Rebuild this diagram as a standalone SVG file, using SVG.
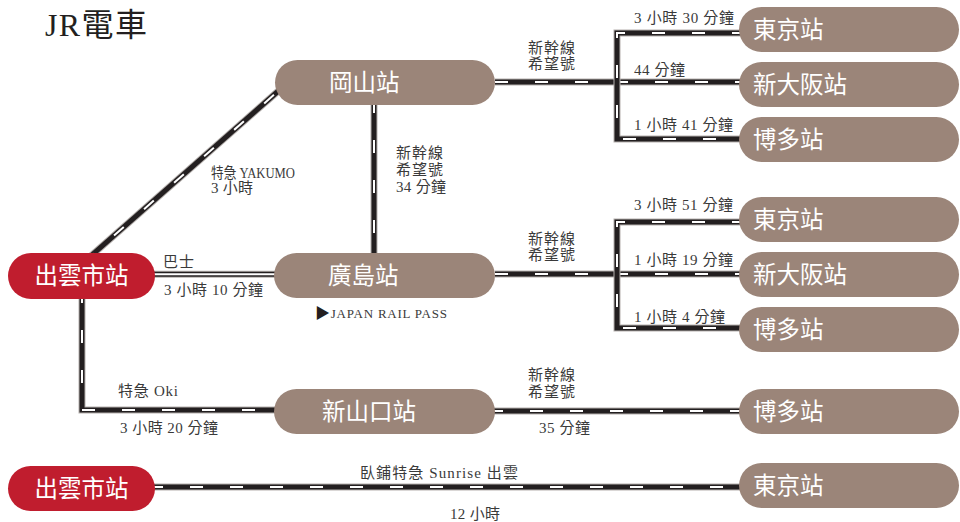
<svg xmlns="http://www.w3.org/2000/svg" xmlns:xlink="http://www.w3.org/1999/xlink" width="960" height="522" viewBox="0 0 960 522">
<style>
.edge{fill:none;stroke:#b5b0ad;stroke-width:7}
.core{fill:none;stroke:#231f20;stroke-width:5}
.dash{fill:none;stroke:#ffffff;stroke-width:2;stroke-dasharray:13 27}
.busE{fill:none;stroke:#b5b0ad;stroke-width:7}
.busC{fill:none;stroke:#231f20;stroke-width:5}
.busW{fill:none;stroke:#ffffff;stroke-width:2}
.st{fill:#9b8579}
.red{fill:#c01d2e}
.nt{font-family:"Noto Sans CJK TC","Noto Sans",sans-serif;font-size:23.5px;fill:#ffffff;font-weight:400}
.lb{font-family:"Liberation Serif","Noto Sans CJK TC",serif;font-size:15px;fill:#3a3a3a}
.title{font-family:"Liberation Serif","Noto Sans CJK TC",serif;font-size:32px;fill:#231f20}
</style>
<defs>
<path id="r1" d="M495,82 H745"/>
<path id="r2" d="M745,33 H617 V139 H745"/>
<path id="r3" d="M495,274 H745"/>
<path id="r4" d="M745,222 H617 V328 H745"/>
<path id="r5" d="M374,100 V258"/>
<path id="r6" d="M84,262 L284,86"/>
<path id="r7" d="M82,290 V410 H280"/>
<path id="r8" d="M490,411 H745"/>
<path id="r9" d="M150,487 H745"/>
<path id="b1" d="M150,274.3 H280"/>
</defs>
<text class="title" x="45" y="36" textLength="102">JR電車</text>
<g id="connectors">
<use xlink:href="#r1" class="edge"/><use xlink:href="#r1" class="core"/><use xlink:href="#r1" class="dash"/>
<use xlink:href="#r2" class="edge"/><use xlink:href="#r2" class="core"/><use xlink:href="#r2" class="dash"/>
<use xlink:href="#r3" class="edge"/><use xlink:href="#r3" class="core"/><use xlink:href="#r3" class="dash"/>
<use xlink:href="#r4" class="edge"/><use xlink:href="#r4" class="core"/><use xlink:href="#r4" class="dash"/>
<use xlink:href="#r5" class="edge"/><use xlink:href="#r5" class="core"/><use xlink:href="#r5" class="dash"/>
<use xlink:href="#r6" class="edge"/><use xlink:href="#r6" class="core"/><use xlink:href="#r6" class="dash"/>
<use xlink:href="#r7" class="edge"/><use xlink:href="#r7" class="core"/><use xlink:href="#r7" class="dash"/>
<use xlink:href="#r8" class="edge"/><use xlink:href="#r8" class="core"/><use xlink:href="#r8" class="dash"/>
<use xlink:href="#r9" class="edge"/><use xlink:href="#r9" class="core"/><use xlink:href="#r9" class="dash"/>
<use xlink:href="#b1" class="busE"/><use xlink:href="#b1" class="busC"/><use xlink:href="#b1" class="busW"/>
</g>
<g id="labels">
<text class="lb" x="528" y="53" textLength="47">新幹線</text>
<text class="lb" x="528" y="69" textLength="47">希望號</text>
<text class="lb" x="634" y="23" textLength="100">3 小時 30 分鐘</text>
<text class="lb" x="634" y="75" textLength="51">44 分鐘</text>
<text class="lb" x="634" y="130" textLength="99">1 小時 41 分鐘</text>
<text class="lb" x="528" y="244" textLength="47">新幹線</text>
<text class="lb" x="528" y="260" textLength="47">希望號</text>
<text class="lb" x="634" y="210" textLength="99">3 小時 51 分鐘</text>
<text class="lb" x="634" y="265" textLength="99">1 小時 19 分鐘</text>
<text class="lb" x="634" y="322" textLength="91">1 小時 4 分鐘</text>
<text class="lb" x="396" y="158" textLength="47">新幹線</text>
<text class="lb" x="396" y="175" textLength="47">希望號</text>
<text class="lb" x="396" y="192" textLength="50">34 分鐘</text>
<text class="lb" x="211" y="178" textLength="84" lengthAdjust="spacingAndGlyphs">特急 YAKUMO</text>
<text class="lb" x="211" y="193" textLength="42">3 小時</text>
<text class="lb" x="163" y="267" textLength="31">巴士</text>
<text class="lb" x="164" y="295" textLength="99">3 小時 10 分鐘</text>
<text class="lb" x="315" y="318" textLength="132" style="font-size:13px"><tspan fill="#231f20" style="font-size:15px">▶</tspan>JAPAN RAIL PASS</text>
<text class="lb" x="118" y="396" textLength="60">特急 Oki</text>
<text class="lb" x="120" y="433" textLength="98">3 小時 20 分鐘</text>
<text class="lb" x="528" y="380" textLength="47">新幹線</text>
<text class="lb" x="528" y="397" textLength="47">希望號</text>
<text class="lb" x="539" y="433" textLength="51">35 分鐘</text>
<text class="lb" x="360" y="478" textLength="158">臥鋪特急 Sunrise 出雲</text>
<text class="lb" x="450" y="519" textLength="50">12 小時</text>
</g>
<g id="n-okayama"><rect class="st" x="275" y="60" width="220" height="45" rx="22.5"/><text class="nt" x="329" y="91">岡山站</text></g>
<g id="n-hiroshima"><rect class="st" x="274" y="253" width="221" height="45" rx="22.5"/><text class="nt" x="328" y="284">廣島站</text></g>
<g id="n-shinyamaguchi"><rect class="st" x="274" y="389" width="221" height="45" rx="22.5"/><text class="nt" x="322" y="420">新山口站</text></g>
<g id="n-izumo1"><rect class="red" x="8" y="253" width="147" height="46" rx="23"/><text class="nt" x="81.5" y="284" text-anchor="middle">出雲市站</text></g>
<g id="n-izumo2"><rect class="red" x="8" y="466" width="147" height="45" rx="22.5"/><text class="nt" x="81.5" y="497" text-anchor="middle">出雲市站</text></g>
<g id="n-tokyo1"><rect class="st" x="739" y="7" width="220" height="45" rx="22.5"/><text class="nt" x="753" y="38">東京站</text></g>
<g id="n-osaka1"><rect class="st" x="739" y="62" width="220" height="45" rx="22.5"/><text class="nt" x="753" y="93">新大阪站</text></g>
<g id="n-hakata1"><rect class="st" x="739" y="117" width="220" height="45" rx="22.5"/><text class="nt" x="753" y="148">博多站</text></g>
<g id="n-tokyo2"><rect class="st" x="739" y="197" width="220" height="45" rx="22.5"/><text class="nt" x="753" y="228">東京站</text></g>
<g id="n-osaka2"><rect class="st" x="739" y="252" width="220" height="45" rx="22.5"/><text class="nt" x="753" y="283">新大阪站</text></g>
<g id="n-hakata2"><rect class="st" x="739" y="307" width="220" height="45" rx="22.5"/><text class="nt" x="753" y="338">博多站</text></g>
<g id="n-hakata3"><rect class="st" x="739" y="389" width="220" height="45" rx="22.5"/><text class="nt" x="753" y="420">博多站</text></g>
<g id="n-tokyo3"><rect class="st" x="739" y="463" width="220" height="45" rx="22.5"/><text class="nt" x="753" y="494">東京站</text></g>
</svg>
